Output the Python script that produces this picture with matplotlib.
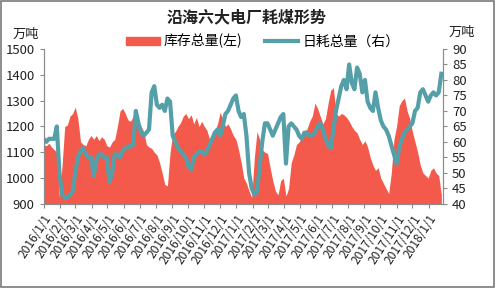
import matplotlib
matplotlib.use("Agg")
import matplotlib.pyplot as plt
import matplotlib.patches as mpatches
from matplotlib.lines import Line2D
import pandas as pd

plt.rcParams['font.family'] = ['Noto Sans CJK SC', 'DejaVu Sans']

# 5-day samples from 2016-01-01
stock = [1130, 1125, 1135, 1120, 1110, 1100, 925, 1050, 1200, 1205,
         1240, 1250, 1275, 1230, 1140, 1130, 1125, 1150, 1165, 1150,
         1165, 1145, 1160, 1150, 1125, 1120, 1140, 1150, 1200, 1260,
         1270, 1250, 1225, 1220, 1240, 1255, 1220, 1200, 1180, 1130,
         1120, 1115, 1100, 1090, 1060, 1020, 975, 970, 1100, 1170,
         1180, 1200, 1215, 1240, 1250, 1230, 1245, 1210, 1235, 1200,
         1220, 1200, 1185, 1150, 1170, 1180, 1210, 1255, 1230, 1200,
         1210, 1190, 1165, 1150, 1110, 1060, 1000, 980, 950, 925,
         1080, 1180, 1150, 1110, 1100, 1095, 1040, 990, 950, 935,
         990, 1000, 930, 960, 1060, 1090, 1130, 1140, 1160, 1180,
         1190, 1220, 1240, 1290, 1270, 1240, 1210, 1230, 1290, 1340,
         1350, 1250, 1240, 1250, 1245, 1235, 1220, 1200, 1185, 1175,
         1150, 1130, 1145, 1120, 1080, 1050, 1030, 1040, 1000, 980,
         960, 940, 1020, 1150, 1200, 1280, 1300, 1310, 1260, 1230,
         1180, 1140, 1100, 1050, 1020, 1010, 1000, 1030, 1040, 1020,
         1010, 935]

daily = [61, 60, 61, 61, 61, 65, 50, 43, 42, 42,
         43, 44, 50, 55, 57, 58, 56, 55, 55, 49,
         54, 56, 56, 55, 55, 47, 50, 56, 56, 55,
         57, 58, 58, 59, 59, 70, 66, 63, 62, 63,
         64, 76, 78, 72, 71, 72, 70, 74, 73, 62,
         60, 58, 57, 56, 55, 52, 51, 55, 56, 57,
         57, 56, 57, 59, 61, 63, 64, 62, 65, 69,
         70, 72, 74, 75, 70, 68, 69, 62, 50, 45,
         43, 44, 52, 60, 66, 66, 64, 62, 64, 66,
         68, 69, 53, 65, 66, 65, 64, 62, 61, 63,
         63, 62, 62, 63, 65, 66, 64, 61, 59, 58,
         64, 70, 74, 78, 80, 77, 85, 79, 77, 84,
         82, 76, 80, 73, 71, 70, 76, 71, 67, 65,
         64, 62, 59, 56, 53, 58, 61, 63, 64, 65,
         66, 70, 71, 76, 77, 75, 73, 75, 76, 75,
         76, 82]

dates = pd.date_range('2016-01-01', periods=len(stock), freq='5D')
months = pd.date_range('2016-01-01', '2018-01-01', freq='MS')
month_labels = [f"{m.year}/{m.month}/1" for m in months]

fig = plt.figure(figsize=(4.96, 2.88), dpi=100)
ax = fig.add_axes([0.088, 0.292, 0.805, 0.538])
ax2 = ax.twinx()

ax.fill_between(dates, 900, stock, color='#f35a4b', lw=0)
ax2.plot(dates, daily, color='#55a0a8', lw=3.0, solid_joinstyle='round')

ax.set_xlim(pd.Timestamp('2016-01-01'), pd.Timestamp('2018-01-28'))
ax.set_ylim(900, 1500)
ax2.set_ylim(40, 90)
ax.set_yticks(range(900, 1501, 100))
ax2.set_yticks(range(40, 91, 5))
ax.set_xticks(months)
ax.set_xticklabels(month_labels, rotation=57, ha='right', rotation_mode='anchor')

for a in (ax, ax2):
    a.spines['top'].set_visible(False)
    for s in ('left', 'right', 'bottom'):
        a.spines[s].set_color('#8c8c8c')
        a.spines[s].set_linewidth(0.8)
    a.tick_params(colors='#8c8c8c', labelcolor='#222222', labelsize=9.5, length=3, width=0.8)
ax.tick_params(axis='x', labelsize=8.6, pad=3)

fig.text(0.497, 0.94, '沿海六大电厂耗煤形势', ha='center', va='center',
         fontsize=11.5, fontweight='bold', color='#222222')
fig.text(0.052, 0.882, '万吨', ha='center', va='center', fontsize=9.5, color='#222222')
fig.text(0.932, 0.889, '万吨', ha='center', va='center', fontsize=9.5, color='#222222')

h1 = mpatches.Patch(color='#f35a4b', label='库存总量(左)')
h2 = Line2D([], [], color='#55a0a8', lw=3.0, label='日耗总量（右）')
fig.legend(handles=[h1, h2], loc='center', bbox_to_anchor=(0.53, 0.857), ncol=2,
           frameon=False, fontsize=10, handlelength=2.4, handleheight=0.5,
           columnspacing=1.6, handletextpad=0.3)

fig.patches.append(mpatches.Rectangle((0.002, 0.004), 0.993, 0.992, transform=fig.transFigure,
                                      fill=False, ec='#7a7a7a', lw=1.2))

fig.savefig('out.png', dpi=100)
